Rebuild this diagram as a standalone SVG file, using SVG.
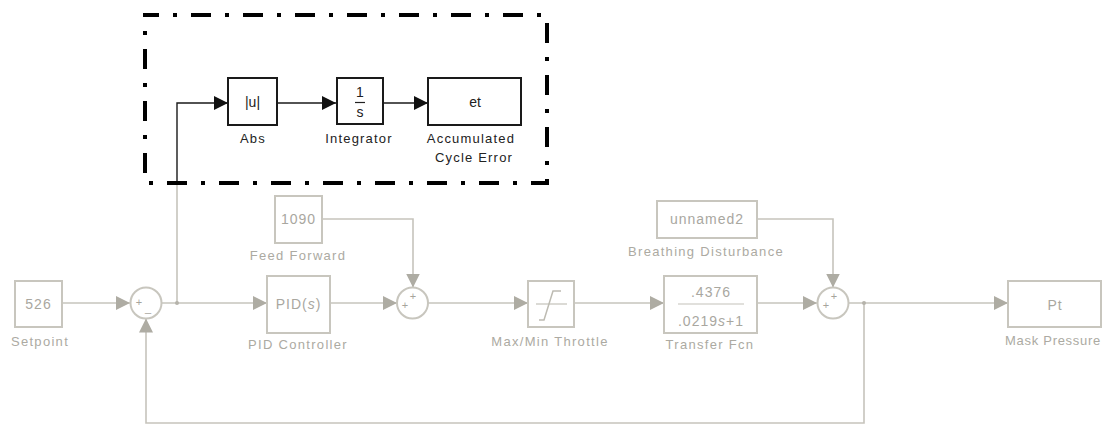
<svg xmlns="http://www.w3.org/2000/svg" width="1104" height="425" viewBox="0 0 1104 425">
<defs>
<style>
.gb{fill:#fff;stroke:#c8c6be;stroke-width:2}
.bb{fill:#fff;stroke:#1a1a1a;stroke-width:2}
.gl{fill:none;stroke:#c6c4bc;stroke-width:1.6}
.bl{fill:none;stroke:#1a1a1a;stroke-width:1.4}
.gt{font-family:"Liberation Sans",Arial,sans-serif;font-size:13px;fill:#acaaa2;text-anchor:middle;letter-spacing:1.3px}
.bt{font-family:"Liberation Sans",Arial,sans-serif;font-size:13px;fill:#222;text-anchor:middle;letter-spacing:1.2px}
.gi{font-family:"Liberation Sans",Arial,sans-serif;font-size:14px;fill:#a9a79f;text-anchor:middle;letter-spacing:1px}
.bi{font-family:"Liberation Sans",Arial,sans-serif;font-size:14px;fill:#222;text-anchor:middle}
.sg{font-family:"Liberation Sans",Arial,sans-serif;font-size:11px;fill:#a6a49c;text-anchor:middle}
.dot{fill:#b5b3aa}
</style>
<marker id="ga" viewBox="0 0 14 14" refX="14" refY="7" markerWidth="14" markerHeight="14" markerUnits="userSpaceOnUse" orient="auto">
<path d="M0,0 L14,7 L0,14 Z" fill="#aeaca3"/>
</marker>
<marker id="ba" viewBox="0 0 14 14" refX="14" refY="7" markerWidth="14" markerHeight="14" markerUnits="userSpaceOnUse" orient="auto">
<path d="M0,0 L14,7 L0,14 Z" fill="#111"/>
</marker>
</defs>
<rect width="1104" height="425" fill="#fff"/>

<g id="connectors">
<path class="gl" d="M62,303 H130" marker-end="url(#ga)"/>
<path class="gl" d="M161.5,303 H267" marker-end="url(#ga)"/>
<path class="gl" d="M177,303 V183"/>
<path class="bl" d="M177,183 V103 H228" marker-end="url(#ba)"/>
<path class="bl" d="M277,103 H336" marker-end="url(#ba)"/>
<path class="bl" d="M383,103 H428" marker-end="url(#ba)"/>
<path class="gl" d="M330,303 H397" marker-end="url(#ga)"/>
<path class="gl" d="M322,219 H413 V287.5" marker-end="url(#ga)"/>
<path class="gl" d="M428,303 H528" marker-end="url(#ga)"/>
<path class="gl" d="M574,303 H664" marker-end="url(#ga)"/>
<path class="gl" d="M757,303 H817" marker-end="url(#ga)"/>
<path class="gl" d="M757,219 H833 V287.5" marker-end="url(#ga)"/>
<path class="gl" d="M849,303 H1008" marker-end="url(#ga)"/>
<path class="gl" d="M864,303 V423 H146 V318.5" marker-end="url(#ga)"/>
<circle class="dot" cx="177" cy="303" r="2"/>
<circle class="dot" cx="864" cy="303" r="2"/>
</g>

<g id="dashed-region">
<path d="M145,15 H547 V183 H145 Z" fill="none" stroke="#000" stroke-width="4" stroke-dasharray="20 14 4 14" stroke-dashoffset="6"/>
</g>

<g id="abs">
<rect class="bb" x="228" y="78" width="49" height="47"/>
<text class="bi" x="252.5" y="107">|u|</text>
<text class="bt" x="253" y="143">Abs</text>
</g>
<g id="integrator">
<rect class="bb" x="337" y="78" width="46" height="46"/>
<text class="bi" x="360" y="97">1</text>
<line x1="355" y1="102.5" x2="365" y2="102.5" stroke="#222" stroke-width="1.2"/>
<text class="bi" x="360" y="117">s</text>
<text class="bt" x="359" y="143">Integrator</text>
</g>
<g id="accumulated">
<rect class="bb" x="428" y="78" width="93" height="47"/>
<text class="bi" x="475" y="107">et</text>
<text class="bt" x="471" y="143">Accumulated</text>
<text class="bt" x="474" y="162">Cycle Error</text>
</g>

<g id="setpoint">
<rect class="gb" x="15" y="281" width="47" height="46"/>
<text class="gi" x="38.5" y="309">526</text>
<text class="gt" x="40" y="346">Setpoint</text>
</g>
<g id="sum1">
<circle class="gb" cx="146" cy="303" r="15.5"/>
<text class="sg" x="139" y="306">+</text>
<text class="sg" x="148" y="312">_</text>
</g>
<g id="feedforward">
<rect class="gb" x="275" y="196" width="47" height="47"/>
<text class="gi" x="298.5" y="224">1090</text>
<text class="gt" x="298" y="260">Feed Forward</text>
</g>
<g id="pid">
<rect class="gb" x="267" y="276" width="63" height="57"/>
<text class="gi" x="298.5" y="309">PID(<tspan font-style="italic">s</tspan>)</text>
<text class="gt" x="298" y="349">PID Controller</text>
</g>
<g id="sum2">
<circle class="gb" cx="412.5" cy="303" r="15.5"/>
<text class="sg" x="405" y="309">+</text>
<text class="sg" x="413" y="300">+</text>
</g>
<g id="saturation">
<rect class="gb" x="528" y="281" width="46" height="46"/>
<line x1="536" y1="304" x2="567" y2="304" stroke="#c3c1b9" stroke-width="1.2"/>
<path d="M539,320 H544 L553,291 H561" fill="none" stroke="#bdbbb2" stroke-width="1.5"/>
<text class="gt" x="550" y="346">Max/Min Throttle</text>
</g>
<g id="breathing">
<rect class="gb" x="657" y="201" width="100" height="37"/>
<text class="gi" x="707" y="224">unnamed2</text>
<text class="gt" x="706" y="256">Breathing Disturbance</text>
</g>
<g id="transferfcn">
<rect class="gb" x="664" y="276" width="93" height="57"/>
<text class="gi" x="711" y="297">.4376</text>
<line x1="678" y1="304" x2="744" y2="304" stroke="#c3c1b9" stroke-width="1.2"/>
<text class="gi" x="711" y="326">.0219<tspan font-style="italic">s</tspan>+1</text>
<text class="gt" x="710" y="349">Transfer Fcn</text>
</g>
<g id="sum3">
<circle class="gb" cx="833" cy="303" r="15.5"/>
<text class="sg" x="826" y="309">+</text>
<text class="sg" x="834" y="300">+</text>
</g>
<g id="maskpressure">
<rect class="gb" x="1008" y="281" width="93" height="46"/>
<text class="gi" x="1055" y="310">Pt</text>
<text class="gt" x="1053" y="345" style="letter-spacing:0.7px">Mask Pressure</text>
</g>
</svg>
